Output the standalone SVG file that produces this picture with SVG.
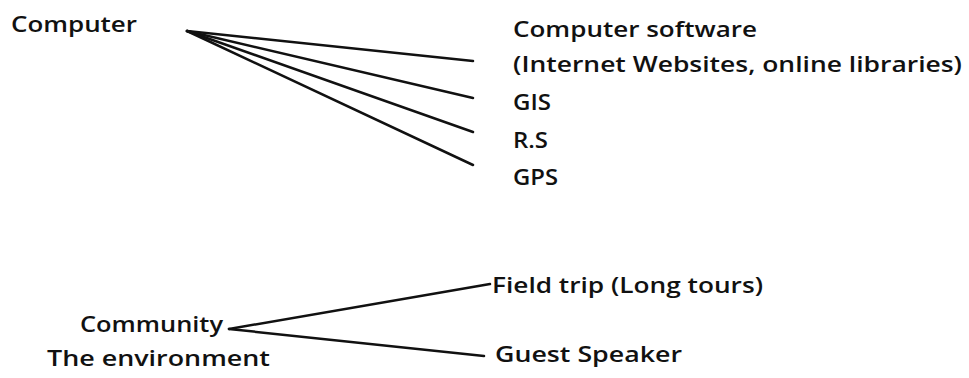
<svg xmlns="http://www.w3.org/2000/svg" width="969" height="378" viewBox="0 0 969 378">
<style>
text{font-family:"Open Sans","Noto Sans","DejaVu Sans",sans-serif;font-size:22px;font-weight:600;fill:#111;}
.c line{stroke:#111;stroke-width:2.5;stroke-linecap:round;}
</style>
<rect width="969" height="378" fill="#fff"/>
<g id="computer"><text x="11" y="32" textLength="126" lengthAdjust="spacingAndGlyphs">Computer</text></g>
<g id="software"><text x="513" y="37" textLength="244" lengthAdjust="spacingAndGlyphs">Computer software</text>
<text x="513" y="72" textLength="449" lengthAdjust="spacingAndGlyphs">(Internet Websites, online libraries)</text></g>
<g id="gis"><text x="513" y="110" textLength="38" lengthAdjust="spacingAndGlyphs">GIS</text></g>
<g id="rs"><text x="513" y="148" textLength="35" lengthAdjust="spacingAndGlyphs">R.S</text></g>
<g id="gps"><text x="513" y="185" textLength="45" lengthAdjust="spacingAndGlyphs">GPS</text></g>
<g id="community"><text x="80" y="332" textLength="143" lengthAdjust="spacingAndGlyphs">Community</text>
<text x="47" y="366" textLength="223" lengthAdjust="spacingAndGlyphs">The environment</text></g>
<g id="fieldtrip"><text x="492" y="293" textLength="271" lengthAdjust="spacingAndGlyphs">Field trip (Long tours)</text></g>
<g id="speaker"><text x="495" y="362" textLength="187" lengthAdjust="spacingAndGlyphs">Guest Speaker</text></g>
<g class="c" id="connectors">
<line x1="187" y1="31" x2="473" y2="61"/>
<line x1="187" y1="31" x2="473" y2="98"/>
<line x1="187" y1="31" x2="473" y2="132"/>
<line x1="187" y1="31" x2="473" y2="165"/>
<line x1="229" y1="329" x2="490" y2="284"/>
<line x1="229" y1="329" x2="484" y2="356"/>
</g>
</svg>
